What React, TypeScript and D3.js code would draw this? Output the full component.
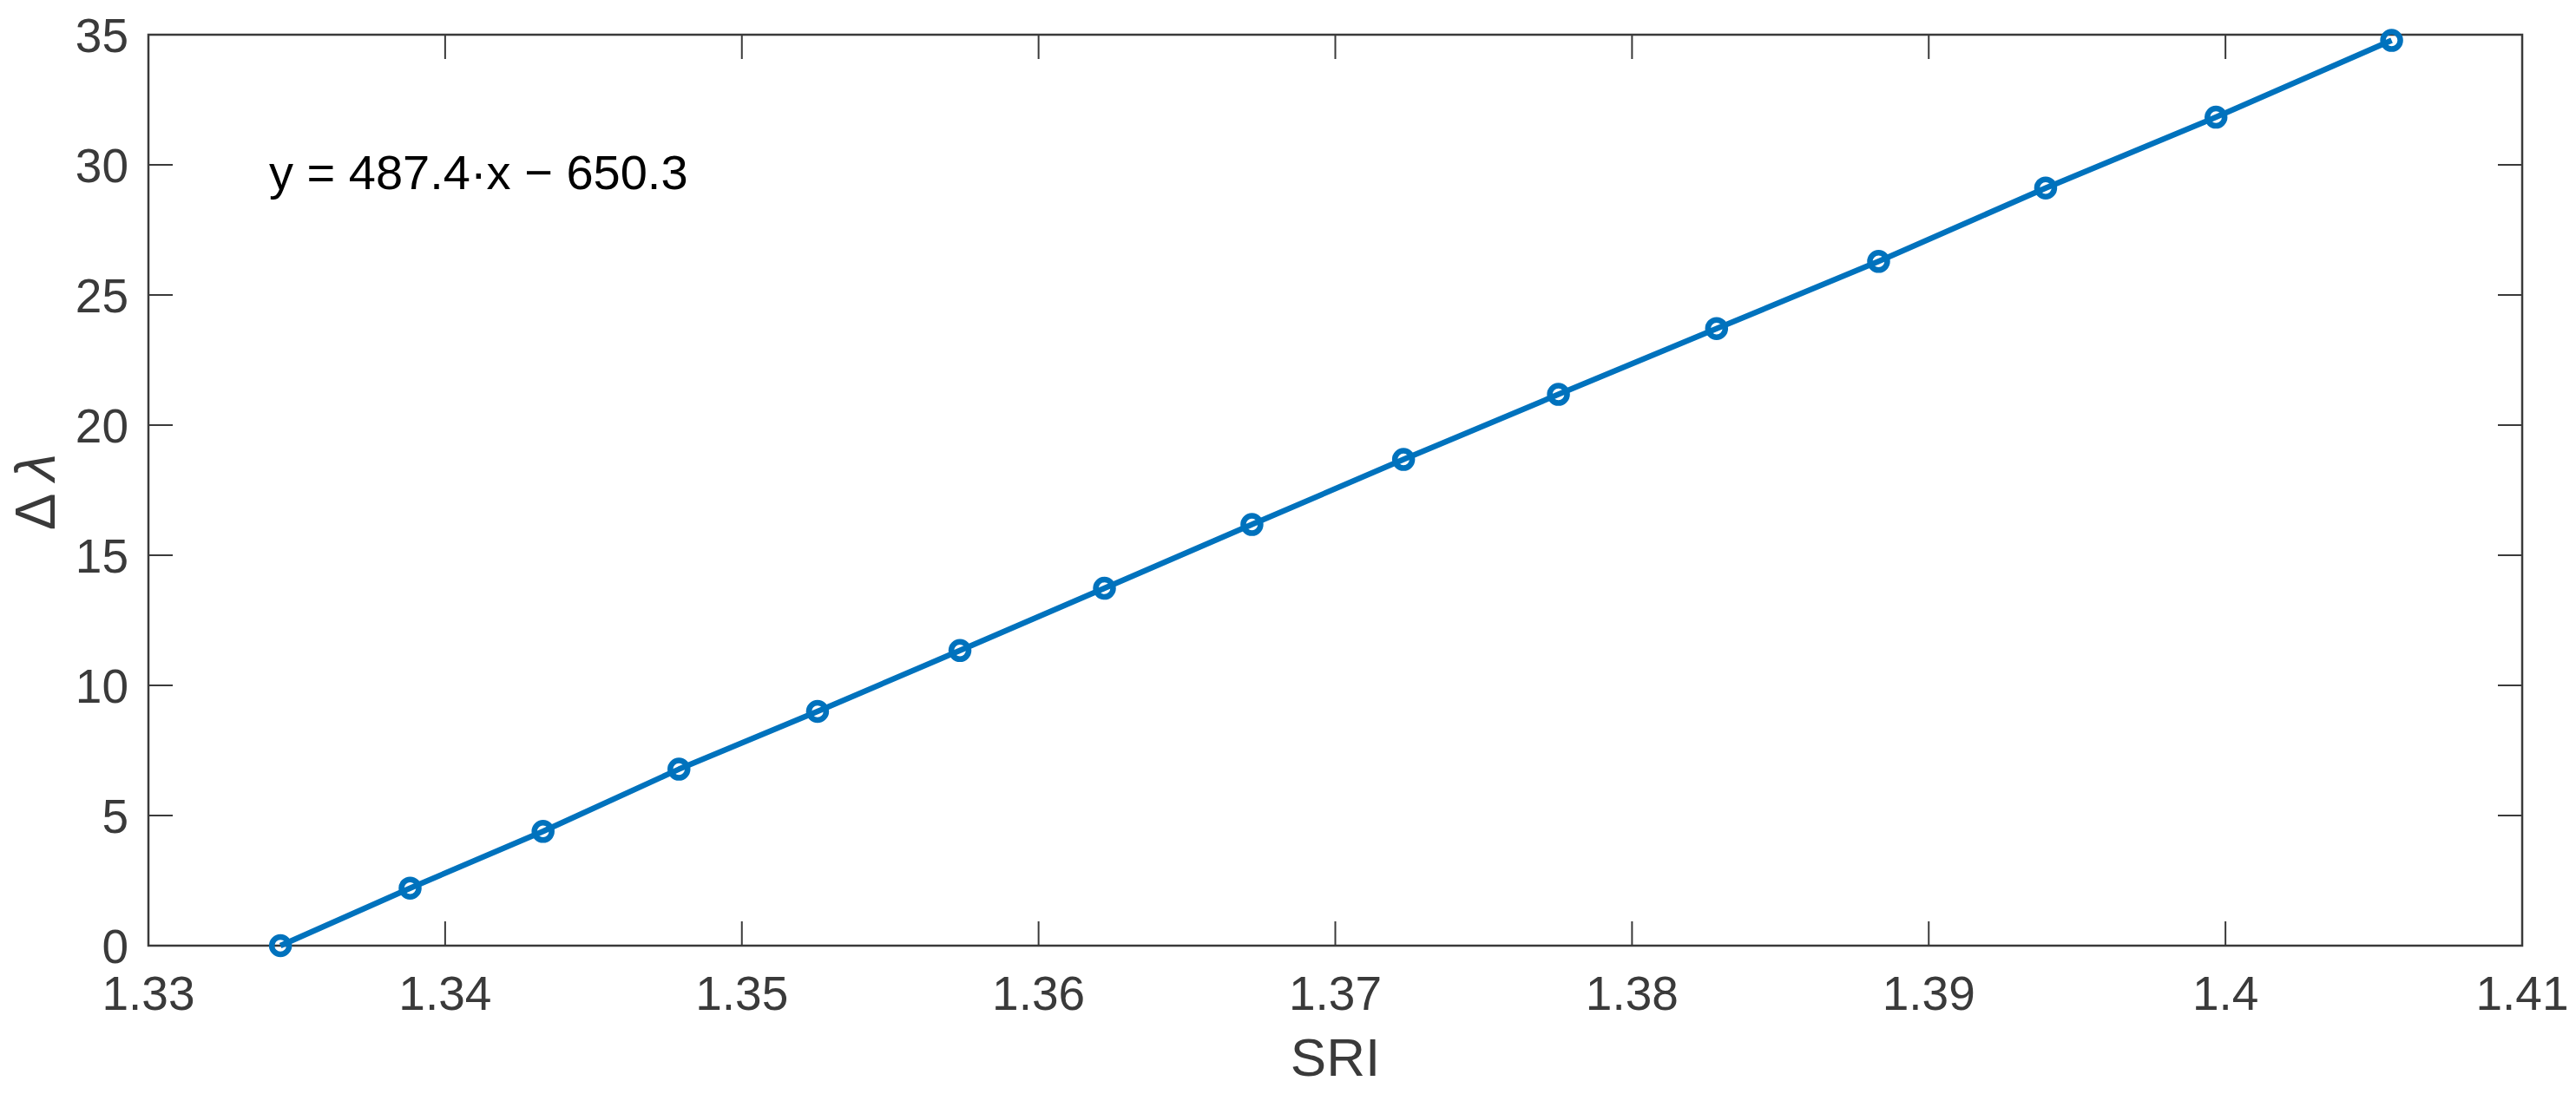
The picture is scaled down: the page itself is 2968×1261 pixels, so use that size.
import React from "react";
import * as d3 from "d3";

const sri = [1.33445, 1.33882, 1.3433, 1.34788, 1.35255, 1.35735, 1.36222, 1.36719, 1.3723, 1.37752, 1.38285, 1.38831, 1.39394, 1.39968, 1.4056];
const deltaLambda = [0, 2.21, 4.39, 6.78, 9.0, 11.34, 13.73, 16.18, 18.68, 21.18, 23.71, 26.29, 29.11, 31.83, 34.78];
const xTicks = [1.33, 1.34, 1.35, 1.36, 1.37, 1.38, 1.39, 1.4, 1.41];
const yTicks = [0, 5, 10, 15, 20, 25, 30, 35];
const equation = "y = 487.4·x − 650.3";

const W = 2968, H = 1261;
const L = 171, R = 2906, T = 40, B = 1090;
const AX = "#3a3a3a";
const BLUE = "#0072BD";
const FONT = "Arial, 'Liberation Sans', Helvetica, sans-serif";

export default function App() {
  const x = d3.scaleLinear().domain([1.33, 1.41]).range([L, R]);
  const y = d3.scaleLinear().domain([0, 35]).range([B, T]);
  const pts = sri.map((v, i) => [v, deltaLambda[i]] as [number, number]);
  const line = d3.line<[number, number]>().x(d => x(d[0])).y(d => y(d[1]))(pts) || "";
  const tl = 28;
  return (
    <svg width={W} height={H} style={{ position: "absolute", left: 0, top: 0, background: "#fff" }} fontFamily={FONT}>
      <rect x={0} y={0} width={W} height={H} fill="#fff" />
      {xTicks.map(t => (
        <g key={"x" + t}>
          <line x1={x(t)} x2={x(t)} y1={B} y2={B - tl} stroke={AX} strokeWidth={2} />
          <line x1={x(t)} x2={x(t)} y1={T} y2={T + tl} stroke={AX} strokeWidth={2} />
          <text x={x(t)} y={1164} textAnchor="middle" fontSize={55} fill={AX}>{String(t)}</text>
        </g>
      ))}
      {yTicks.map(t => (
        <g key={"y" + t}>
          <line x1={L} x2={L + tl} y1={y(t)} y2={y(t)} stroke={AX} strokeWidth={2} />
          <line x1={R} x2={R - tl} y1={y(t)} y2={y(t)} stroke={AX} strokeWidth={2} />
          <text x={148} y={y(t) + 19.5} textAnchor="end" fontSize={55} fill={AX}>{String(t)}</text>
        </g>
      ))}
      <rect x={L} y={T} width={R - L} height={B - T} fill="none" stroke={AX} strokeWidth={2.5} />
      <path d={line} fill="none" stroke={BLUE} strokeWidth={6.5} strokeLinejoin="round" />
      {pts.map((d, i) => (
        <circle key={i} cx={x(d[0])} cy={y(d[1])} r={10} fill="none" stroke={BLUE} strokeWidth={6.5} />
      ))}
      <text x={(L + R) / 2} y={1240} textAnchor="middle" fontSize={62} fill={AX}>SRI</text>
      <text transform={`translate(63, ${(T + B) / 2 + 2}) rotate(-90)`} textAnchor="middle" fontSize={64} fill={AX}>
        Δ <tspan fontStyle="italic">λ</tspan>
      </text>
      <text x={310} y={218} fontSize={56} fill="#000">{equation}</text>
    </svg>
  );
}
